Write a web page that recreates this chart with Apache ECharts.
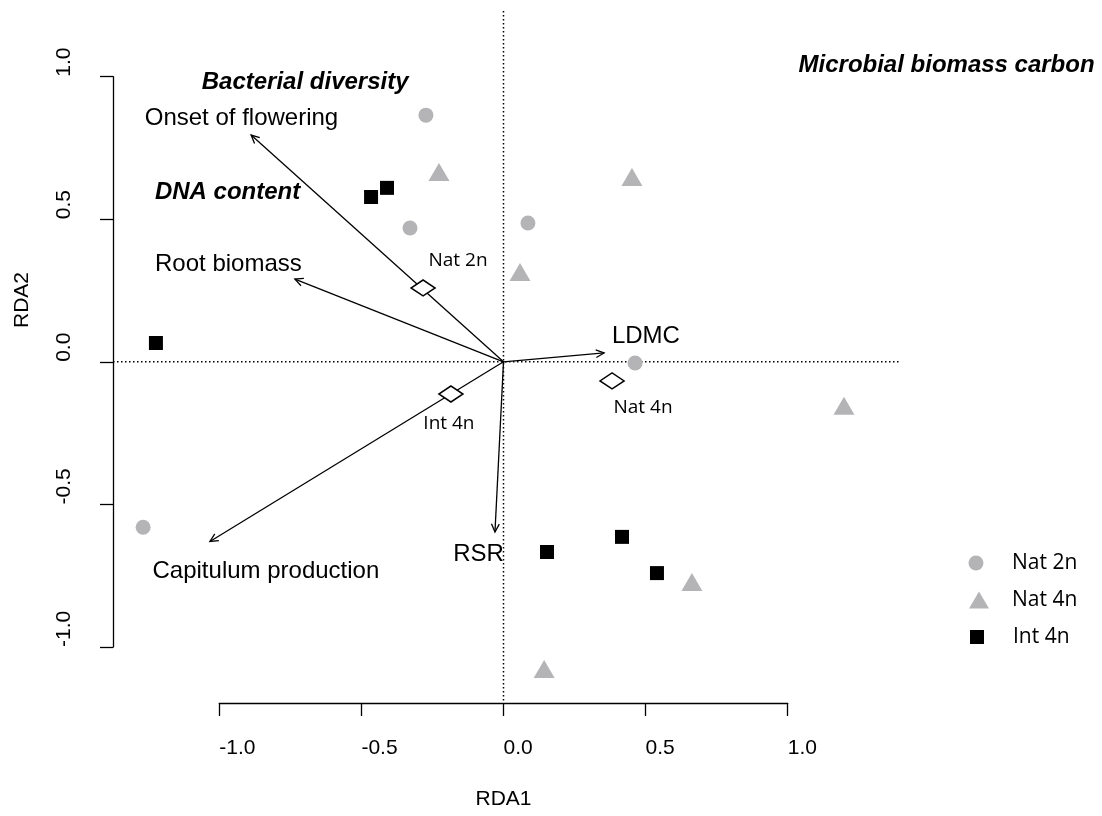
<!DOCTYPE html>
<html><head><meta charset="utf-8">
<script src="https://cdn.jsdelivr.net/npm/echarts@6/dist/echarts.min.js"></script>
<style>html,body{margin:0;padding:0;background:#fff}#c{width:1102px;height:816px}</style>
</head><body><div id="c"></div>
<script>
// ---- Site scores (RDA1, RDA2) ----
const nat2nX = [-0.273, -0.329, 0.086, 0.463, -1.268];
const nat2nY = [0.865, 0.469, 0.487, -0.004, -0.580];
const nat4nX = [-0.227, 0.452, 0.058, 1.198, 0.663, 0.143];
const nat4nY = [0.666, 0.648, 0.315, -0.154, -0.772, -1.077];
const int4nX = [-0.466, -0.410, -1.223, 0.153, 0.417, 0.540];
const int4nY = [0.578, 0.610, 0.066, -0.667, -0.614, -0.741];
// ---- Group centroids ----
const centroidNames = ['Nat 2n', 'Int 4n', 'Nat 4n'];
const centroidX = [-0.283, -0.185, 0.382];
const centroidY = [0.259, -0.113, -0.067];
const centroidLabelX = [-0.160, -0.192, 0.491];
const centroidLabelY = [0.354, -0.215, -0.162];
// ---- Trait vectors ----
const traitNames = ['Onset of flowering', 'Root biomass', 'Capitulum production', 'LDMC', 'RSR'];
const traitX = [-0.888, -0.734, -1.033, 0.354, -0.030];
const traitY = [0.795, 0.290, -0.630, 0.031, -0.597];
const traitLabelX = [-0.922, -0.968, -0.836, 0.501, -0.088];
const traitLabelY = [0.855, 0.343, -0.734, 0.090, -0.674];
// ---- Environmental variables ----
const envNames = ['Bacterial diversity', 'DNA content', 'Microbial biomass carbon'];
const envLabelX = [-0.698, -0.971, 1.559];
const envLabelY = [0.981, 0.595, 1.041];
// ---- Axes ----
const tickValues = [-1.0, -0.5, 0.0, 0.5, 1.0];
const plotXLim = [-1.374, 1.395];
const plotYLim = [-1.188, 1.233];
const axisTitles = ['RDA1', 'RDA2'];

const W = 1102, H = 816;
const x0px = 503.5, xScale = 284.2, y0px = 361.8, yScale = 285.15;
const fullXMin = (0 - x0px) / xScale, fullXMax = (W - x0px) / xScale;
const fullYMax = y0px / yScale, fullYMin = (y0px - H) / yScale;

const SANS = "'Liberation Sans', Arial, sans-serif";
const MYR = "'Open Sans', 'Noto Sans', sans-serif";
const GRAY = '#b4b4b7';
const zip = (a, b) => a.map((v, i) => [v, b[i]]);

function textSeries(names, xs, ys, font) {
  return {
    type: 'custom', xAxisIndex: 0, yAxisIndex: 0, silent: true, z: 20,
    data: zip(xs, ys),
    renderItem: (params, api) => {
      const p = api.coord([api.value(0), api.value(1)]);
      return { type: 'text', x: p[0], y: p[1],
        style: Object.assign({ text: names[params.dataIndex], fill: '#000', align: 'center', verticalAlign: 'middle' }, font) };
    }
  };
}

const tickInterval = tickValues[1] - tickValues[0];
const axisCommon = {
  type: 'value', min: tickValues[0], max: tickValues[tickValues.length - 1], interval: tickInterval,
  axisLine: { show: true, onZero: false, lineStyle: { color: '#000', width: 1.3 } },
  axisTick: { show: true, length: 13, lineStyle: { color: '#000', width: 1.3 } },
  splitLine: { show: false }
};

const chart = echarts.init(document.getElementById('c'), null, { renderer: 'canvas' });
chart.setOption({
  animation: false,
  backgroundColor: '#fff',
  grid: [
    { left: 0, right: 0, top: 0, bottom: 0, outerBoundsMode: 'none' },
    { left: 219.3, width: 568.4, bottom: 113, height: 40, outerBoundsMode: 'none' },
    { left: 113, width: 60, top: 76.7, bottom: 169, outerBoundsMode: 'none' }
  ],
  xAxis: [
    { gridIndex: 0, type: 'value', min: fullXMin, max: fullXMax, show: false },
    Object.assign({}, axisCommon, {
      gridIndex: 1, position: 'bottom',
      axisLabel: { show: true, align: 'left', margin: 35, fontSize: 21, fontFamily: SANS, color: '#000', formatter: v => v.toFixed(1) },
      name: axisTitles[0], nameLocation: 'middle', nameGap: 86,
      nameTextStyle: { fontSize: 21, fontFamily: SANS, color: '#000' }
    }),
    { gridIndex: 2, type: 'value', show: false }
  ],
  yAxis: [
    { gridIndex: 0, type: 'value', min: fullYMin, max: fullYMax, show: false },
    { gridIndex: 1, type: 'value', show: false },
    Object.assign({}, axisCommon, {
      gridIndex: 2, position: 'left',
      axisLabel: { show: true, rotate: 90, align: 'left', verticalAlign: 'middle', margin: 49, fontSize: 21, fontFamily: SANS, color: '#000', formatter: v => v.toFixed(1) }
    })
  ],
  graphic: [{
    type: 'text', x: 22, y: 300, rotation: Math.PI / 2,
    style: { text: axisTitles[1], fontSize: 21, fontFamily: SANS, fill: '#000', align: 'center', verticalAlign: 'middle' }
  }],
  legend: [
    { data: [{ name: 'Nat 2n', icon: 'circle' }], left: 968.5, top: 552.5, padding: 0, itemWidth: 15, itemHeight: 15, selectedMode: false,
      textStyle: { fontSize: 21, fontFamily: MYR, color: '#000', padding: [0, 0, 0, 23.5] } },
    { data: [{ name: 'Nat 4n', icon: 'triangle' }], left: 969, top: 589.5, padding: 0, itemWidth: 20, itemHeight: 17, selectedMode: false,
      textStyle: { fontSize: 21, fontFamily: MYR, color: '#000', padding: [0, 0, 0, 18] } },
    { data: [{ name: 'Int 4n', icon: 'rect' }], left: 970, top: 626.5, padding: 0, itemWidth: 14, itemHeight: 14, selectedMode: false,
      textStyle: { fontSize: 21, fontFamily: MYR, color: '#000', padding: [0, 0, 0, 24] } }
  ],
  series: [
    { type: 'line', xAxisIndex: 0, yAxisIndex: 0, silent: true, symbol: 'none', z: 1,
      data: [[0, plotYLim[0]], [0, plotYLim[1]]],
      lineStyle: { color: '#000', width: 1.5, type: [1.5, 2.5] } },
    { type: 'line', xAxisIndex: 0, yAxisIndex: 0, silent: true, symbol: 'none', z: 1,
      data: [[plotXLim[0], 0], [plotXLim[1], 0]],
      lineStyle: { color: '#000', width: 1.5, type: [1.5, 2.5] } },
    { type: 'custom', xAxisIndex: 0, yAxisIndex: 0, silent: true, z: 3,
      data: zip(traitX, traitY),
      renderItem: (params, api) => {
        const o = api.coord([0, 0]);
        const e = api.coord([api.value(0), api.value(1)]);
        const a = Math.atan2(e[1] - o[1], e[0] - o[0]);
        const L = 9, t = Math.PI / 7;
        const h1 = [e[0] - L * Math.cos(a - t), e[1] - L * Math.sin(a - t)];
        const h2 = [e[0] - L * Math.cos(a + t), e[1] - L * Math.sin(a + t)];
        return { type: 'group', children: [
          { type: 'line', shape: { x1: o[0], y1: o[1], x2: e[0], y2: e[1] }, style: { stroke: '#000', lineWidth: 1.3 } },
          { type: 'polyline', shape: { points: [h1, e, h2] }, style: { stroke: '#000', lineWidth: 1.3, fill: null } }
        ] };
      } },
    { name: 'Nat 2n', type: 'scatter', xAxisIndex: 0, yAxisIndex: 0, silent: true, z: 5,
      symbol: 'circle', symbolSize: 15, itemStyle: { color: GRAY, opacity: 1 }, data: zip(nat2nX, nat2nY) },
    { name: 'Nat 4n', type: 'scatter', xAxisIndex: 0, yAxisIndex: 0, silent: true, z: 5,
      symbol: 'triangle', symbolSize: [21, 18], itemStyle: { color: GRAY, opacity: 1 }, data: zip(nat4nX, nat4nY) },
    { name: 'Int 4n', type: 'scatter', xAxisIndex: 0, yAxisIndex: 0, silent: true, z: 5,
      symbol: 'rect', symbolSize: 14, itemStyle: { color: '#000', opacity: 1 }, data: zip(int4nX, int4nY) },
    { name: 'centroids', type: 'scatter', xAxisIndex: 0, yAxisIndex: 0, silent: true, z: 6,
      symbol: 'diamond', symbolSize: [24, 16],
      itemStyle: { color: '#fff', borderColor: '#000', borderWidth: 1.6, opacity: 1 },
      data: zip(centroidX, centroidY) },
    textSeries(traitNames, traitLabelX, traitLabelY, { fontSize: 24, fontFamily: SANS }),
    textSeries(envNames, envLabelX, envLabelY, { fontSize: 24, fontFamily: SANS, fontWeight: 'bold', fontStyle: 'italic' }),
    textSeries(centroidNames, centroidLabelX, centroidLabelY, { fontSize: 19, fontFamily: MYR })
  ]
});
</script>
</body></html>
